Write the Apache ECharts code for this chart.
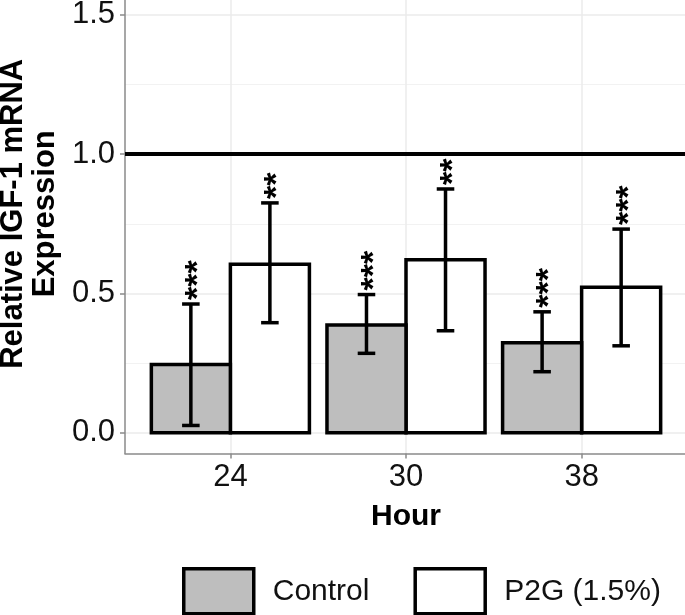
<!DOCTYPE html>
<html>
<head>
<meta charset="utf-8">
<script src="https://cdn.jsdelivr.net/npm/echarts@6/dist/echarts.min.js"></script>
<style>html,body{margin:0;padding:0;background:#fff}#c{width:685px;height:615px}</style>
</head>
<body>
<div id="c"></div>
<script>
// ---- data ----
const hours = ['24', '30', '38'];
const seriesNames = ['Control', 'P2G (1.5%)'];
const controlMean = [0.245, 0.387, 0.323];
const controlLow  = [0.026, 0.285, 0.219];
const controlHigh = [0.462, 0.496, 0.434];
const controlSig  = ['***', '***', '***'];
const p2gMean = [0.605, 0.621, 0.522];
const p2gLow  = [0.395, 0.366, 0.312];
const p2gHigh = [0.825, 0.875, 0.731];
const p2gSig  = ['**', '**', '***'];
const yTicks = [0, 0.5, 1.0, 1.5];
const referenceLevel = 1.0;

// ---- drawing ----
const FONT = '"Liberation Sans", Arial, sans-serif';
const DODGE = 0.45, CAP = 0.05;
const xTicks = hours.map((h, i) => i + 1);

function build(mean, low, high) {
  return mean.map((m, i) => [i, m, low[i], high[i]]);
}

function makeRender(sigs, fill, side) {
  return function (params, api) {
    const xc = api.value(0) + 1;
    const x0 = side < 0 ? xc - DODGE : xc;
    const x1 = side < 0 ? xc : xc + DODGE;
    const mid = (x0 + x1) / 2;
    const tl = api.coord([x0, api.value(1)]);
    const br = api.coord([x1, 0]);
    const hi = api.coord([mid, api.value(3)]);
    const lo = api.coord([mid, api.value(2)]);
    const cl = api.coord([mid - CAP, 0])[0];
    const cr = api.coord([mid + CAP, 0])[0];
    const lw = 3.5;
    return {
      type: 'group',
      children: [
        { type: 'rect', shape: { x: tl[0], y: tl[1], width: br[0] - tl[0], height: br[1] - tl[1] },
          style: { fill: fill, stroke: '#000', lineWidth: lw } },
        { type: 'line', shape: { x1: hi[0], y1: hi[1], x2: lo[0], y2: lo[1] }, style: { stroke: '#000', lineWidth: lw } },
        { type: 'line', shape: { x1: cl, y1: hi[1], x2: cr, y2: hi[1] }, style: { stroke: '#000', lineWidth: lw } },
        { type: 'line', shape: { x1: cl, y1: lo[1], x2: cr, y2: lo[1] }, style: { stroke: '#000', lineWidth: lw } },
        { type: 'text', x: hi[0] + 8, y: hi[1] - 4, rotation: Math.PI / 2,
          style: { text: sigs[params.dataIndex], fontSize: 34, fontWeight: 'bold', fontFamily: FONT, fill: '#000',
                   align: 'left', verticalAlign: 'middle' } }
      ]
    };
  };
}

const chart = echarts.init(document.getElementById('c'), null, { renderer: 'canvas' });
chart.setOption({
  animation: false,
  backgroundColor: '#fff',
  grid: { left: 125, right: -2, top: -6, bottom: 161.4, containLabel: false, outerBoundsMode: 'none' },
  legend: {
    left: 177, top: 562, icon: 'rect', itemWidth: 70, itemHeight: 45, itemGap: 44,
    textStyle: { fontSize: 30, fontFamily: FONT, color: '#111', padding: [0, 0, 0, 14] },
    data: [
      { name: seriesNames[0], itemStyle: { color: '#bebebe', borderColor: '#000', borderWidth: 3.5 } },
      { name: seriesNames[1], itemStyle: { color: '#ffffff', borderColor: '#000', borderWidth: 3.5 } }
    ]
  },
  xAxis: {
    type: 'value', min: 0.4, max: 3.6,
    name: 'Hour', nameLocation: 'middle', nameGap: 48,
    nameTextStyle: { fontSize: 30, fontWeight: 'bold', fontFamily: FONT, color: '#000' },
    axisLine: { show: true, onZero: false, lineStyle: { color: '#8a8a8a', width: 1.5 } },
    axisTick: { show: true, customValues: xTicks, length: 5, lineStyle: { color: '#8a8a8a', width: 1.5 } },
    axisLabel: { customValues: xTicks, formatter: v => hours[Math.round(v) - 1] || '',
                 fontSize: 31, fontFamily: FONT, color: '#111', margin: 8 },
    splitLine: { show: true, lineStyle: { color: '#ebebeb', width: 1.5 } }
  },
  yAxis: {
    type: 'value', min: -0.075, max: 1.575, splitNumber: 3,
    name: 'Relative IGF-1 mRNA\nExpression', nameLocation: 'middle', nameRotate: 90, nameGap: 63,
    nameTextStyle: { fontSize: 31, fontWeight: 'bold', fontFamily: FONT, color: '#000', lineHeight: 32, padding: [0, 0, 0, 20] },
    axisLine: { show: true, lineStyle: { color: '#8a8a8a', width: 1.5 } },
    axisTick: { show: true, customValues: yTicks, length: 5, lineStyle: { color: '#8a8a8a', width: 1.5 } },
    axisLabel: { customValues: yTicks, formatter: v => v.toFixed(1),
                 fontSize: 31, fontFamily: FONT, color: '#111', margin: 10 },
    splitLine: { show: true, lineStyle: { color: '#ebebeb', width: 1.5 } },
    minorTick: { show: false, splitNumber: 2 },
    minorSplitLine: { show: true, lineStyle: { color: '#f2f2f2', width: 1 } }
  },
  series: [
    {
      name: seriesNames[0], type: 'custom',
      itemStyle: { color: '#bebebe', borderColor: '#000', borderWidth: 3.5 },
      renderItem: makeRender(controlSig, '#bebebe', -1),
      encode: { x: 0, y: [1, 2, 3] },
      data: build(controlMean, controlLow, controlHigh),
      markLine: {
        silent: true, symbol: ['none', 'none'], label: { show: false },
        lineStyle: { color: '#000', width: 4, type: 'solid' },
        data: [{ yAxis: referenceLevel }]
      },
      z: 3
    },
    {
      name: seriesNames[1], type: 'custom',
      itemStyle: { color: '#ffffff', borderColor: '#000', borderWidth: 3.5 },
      renderItem: makeRender(p2gSig, '#ffffff', 1),
      encode: { x: 0, y: [1, 2, 3] },
      data: build(p2gMean, p2gLow, p2gHigh),
      z: 2
    }
  ]
});
</script>
</body>
</html>
